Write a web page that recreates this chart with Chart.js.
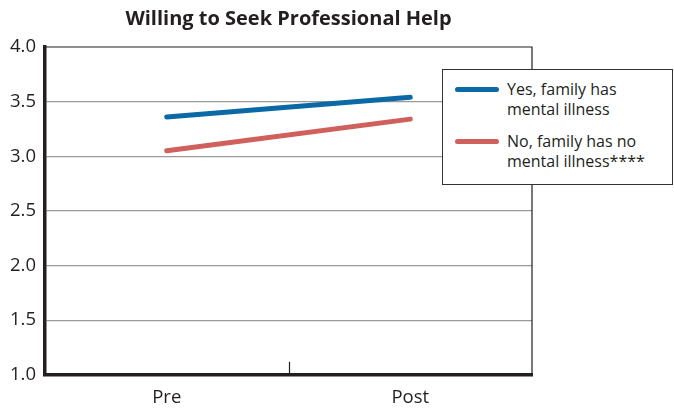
<!DOCTYPE html>
<html>
<head>
<meta charset="utf-8">
<script src="https://cdn.jsdelivr.net/npm/chart.js@4/dist/chart.umd.min.js"></script>
<style>
  html, body { margin: 0; padding: 0; background: #fff; }
  #wrap { position: relative; width: 674px; height: 408px; }
  #legend {
    position: absolute; left: 442px; top: 69px; width: 229px; height: 114px;
    border: 1.5px solid #333; background: #fff; box-sizing: content-box;
    font-family: "Open Sans", sans-serif; font-size: 16px; color: #231f20; line-height: 20px;
  }
  .item { position: absolute; left: 12px; display: flex; align-items: flex-start; }
  .swatch { width: 44px; height: 5px; border-radius: 3px; margin-top: 8px; margin-right: 8px; }
</style>
</head>
<body>
<div id="wrap">
  <canvas id="c" width="674" height="408"></canvas>
  <div id="legend"></div>
</div>
<script>
const categories = ["Pre", "Post"];
const yesFamily = [3.36, 3.54];
const noFamily = [3.05, 3.34];
const seriesLabels = [["Yes, family has", "mental illness"], ["No, family has no", "mental illness****"]];
const seriesColors = ["#0b6aa6", "#cf605b"];
const yTicks = [1.0, 1.5, 2.0, 2.5, 3.0, 3.5, 4.0];
const titleText = "Willing to Seek Professional Help";

const frame = {
  id: 'frame',
  beforeDatasetsDraw(chart) {
    const { ctx, chartArea: a, scales } = chart;
    ctx.save();
    ctx.strokeStyle = '#231f20';
    ctx.lineWidth = 1.2;
    ctx.beginPath();
    ctx.moveTo(a.left, a.top); ctx.lineTo(a.right, a.top); ctx.lineTo(a.right, a.bottom);
    ctx.stroke();
    // center tick between categories
    const x = scales.x;
    const mid = (x.getPixelForValue(0) + x.getPixelForValue(1)) / 2;
    ctx.beginPath();
    ctx.moveTo(Math.round(mid) + 0.5, a.bottom);
    ctx.lineTo(Math.round(mid) + 0.5, a.bottom - 13);
    ctx.stroke();
    ctx.restore();
  }
};

const chart = new Chart(document.getElementById('c'), {
  type: 'line',
  data: {
    labels: categories,
    datasets: [
      { label: seriesLabels[0].join(' '), data: yesFamily, borderColor: seriesColors[0], backgroundColor: seriesColors[0] },
      { label: seriesLabels[1].join(' '), data: noFamily, borderColor: seriesColors[1], backgroundColor: seriesColors[1] }
    ]
  },
  options: {
    responsive: false,
    animation: false,
    devicePixelRatio: 1,
    layout: { padding: { top: 7, right: 142, left: 1, bottom: -13 } },
    elements: {
      line: { borderWidth: 5, borderCapStyle: 'round', tension: 0 },
      point: { radius: 0, hoverRadius: 0 }
    },
    plugins: {
      legend: { display: false },
      tooltip: { enabled: false },
      title: {
        display: true, text: titleText, fullSize: false, color: '#231f20',
        font: { family: 'Open Sans', size: 20, weight: 'bold' },
        padding: { top: 0, bottom: 16 }
      }
    },
    scales: {
      x: {
        offset: true,
        grid: { display: false, drawTicks: false },
        border: { display: true, color: '#231f20', width: 3.5 },
        ticks: { color: '#231f20', font: { family: 'Open Sans', size: 18.5 }, padding: 12 }
      },
      y: {
        min: 1, max: 4,
        afterBuildTicks(scale) { scale.ticks = yTicks.map(v => ({ value: v })); },
        grid: {
          drawTicks: false,
          color: ctx => (ctx.tick && (ctx.tick.value === 1 || ctx.tick.value === 4)) ? 'rgba(0,0,0,0)' : '#9a9a9a',
          lineWidth: 1.2
        },
        border: { display: true, color: '#231f20', width: 3.5 },
        ticks: {
          color: '#231f20', font: { family: 'Open Sans', size: 18.5 }, padding: 9,
          callback: v => Number(v).toFixed(1)
        }
      }
    }
  },
  plugins: [frame]
});

// HTML legend built from the chart's datasets
const leg = document.getElementById('legend');
chart.data.datasets.forEach((ds, i) => {
  const it = document.createElement('div');
  it.className = 'item';
  it.style.top = (9 + i * 52) + 'px';
  const sw = document.createElement('div');
  sw.className = 'swatch';
  sw.style.background = ds.borderColor;
  const tx = document.createElement('div');
  tx.innerHTML = seriesLabels[i].join('<br>');
  it.appendChild(sw); it.appendChild(tx);
  leg.appendChild(it);
});
</script>
</body>
</html>
